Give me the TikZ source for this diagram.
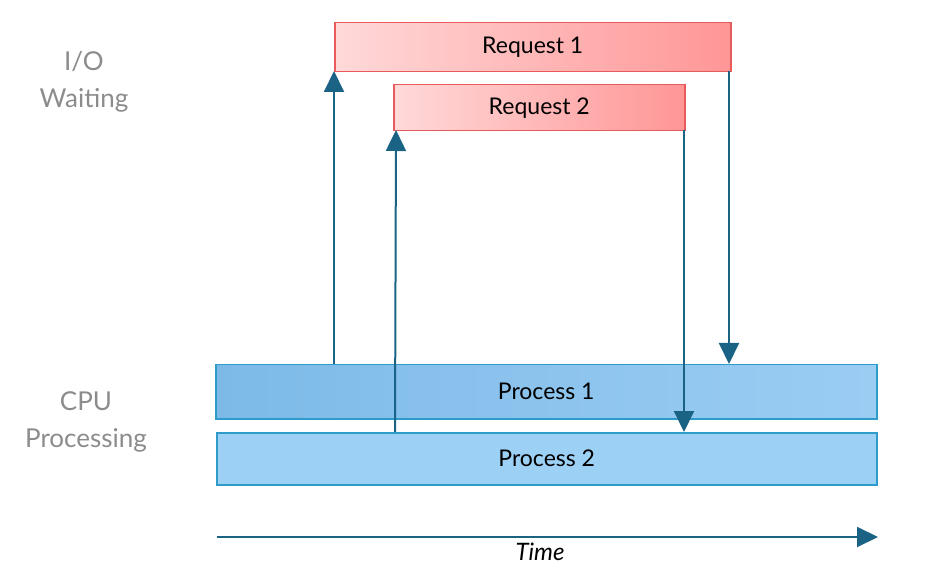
\documentclass[tikz,border=0pt]{standalone}
\usepackage{fontspec}
\setmainfont{Lato}
\usetikzlibrary{arrows.meta}
\definecolor{arr}{HTML}{1B6384}
\definecolor{redb}{HTML}{E85A5C}
\definecolor{blueb}{HTML}{2E9CCA}
\definecolor{lbl}{HTML}{8C8C8C}
\begin{document}
\begin{tikzpicture}[x=1pt,y=-1pt,
  req/.style={draw=redb,line width=1.5pt,left color={rgb,255:red,255;green,217;blue,217},
    right color={rgb,255:red,255;green,150;blue,150},
    minimum height=49pt,anchor=north west,inner sep=0pt,font=\fontsize{23}{26}\selectfont},
  proc/.style={draw=blueb,line width=1.5pt,minimum height=54pt,anchor=north west,inner sep=0pt,
    font=\fontsize{23}{26}\selectfont},
  conn/.style={draw=arr,line width=2pt,-{Triangle[length=21pt,width=20pt]}},
  side/.style={text=lbl,align=center,font=\fontsize{26}{37}\selectfont}]
\useasboundingbox (0,0) rectangle (938,572);
\node[req,minimum width=396pt] (r1) at (334,22) {Request 1};
\node[req,minimum width=291pt,minimum height=46pt] (r2) at (393,84) {Request 2};
\node[proc,minimum width=661pt,
  left color={rgb,255:red,125;green,186;blue,232},right color={rgb,255:red,155;green,205;blue,243}] (p1) at (215,364) {Process 1};
\node[proc,minimum width=660pt,minimum height=52pt,fill={rgb,255:red,157;green,208;blue,245}] (p2) at (216,432) {Process 2};
\coordinate (a1s) at (334,364); \coordinate (a1e) at (334,71);
\coordinate (a2s) at (395,432); \coordinate (a2e) at (396,130);
\coordinate (a3s) at (729,71); \coordinate (a3e) at (729,364);
\coordinate (a4s) at (684,130); \coordinate (a4e) at (684,432);
\draw[conn] (a1s) -- (a1e);
\draw[conn] (a2s) -- (a2e);
\draw[conn] (a3s) -- (a3e);
\draw[conn] (a4s) -- (a4e);
\coordinate (t0) at (217,537); \coordinate (t1) at (878,537);
\draw[conn] (t0) -- (t1);
\node[font=\fontsize{24}{26}\selectfont\itshape] (time) at (540,552) {Time};
\node[side] (io) at (84,82) {I/O\\Waiting};
\node[side] (cpu) at (86,422) {CPU\\Processing};
\end{tikzpicture}
\end{document}
